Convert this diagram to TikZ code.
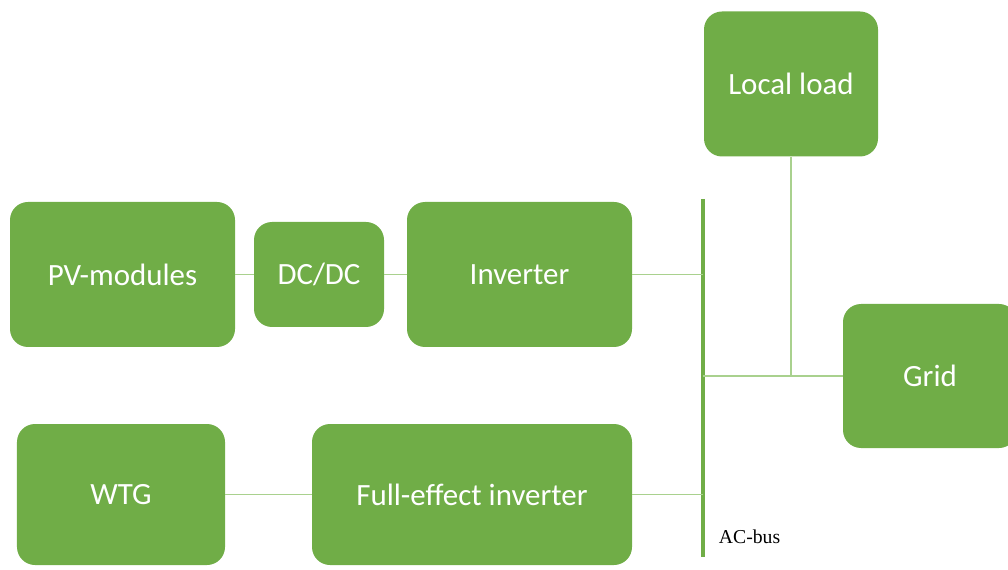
\documentclass[tikz,border=0pt]{standalone}
\usepackage{fontspec}
\setmainfont{Carlito}
\newfontfamily\busfont{Liberation Serif}
\usepackage{xcolor}
\usepackage{tikz}
\definecolor{boxgreen}{HTML}{70AD47}
\definecolor{wiregreen}{HTML}{A9D18E}

\begin{document}
\begin{tikzpicture}[
    unit/.style={rectangle, rounded corners=0.45cm, fill=boxgreen, text=white,
      inner sep=0pt, font=\fontsize{22}{26}\selectfont},
    wire/.style={draw=wiregreen, line width=1pt},
    bus/.style={draw=boxgreen, line width=2.8pt}
  ]
            \useasboundingbox (0,0) rectangle (25.2,14.225);
            \node[unit, minimum width=4.35cm, minimum height=3.625cm] at (19.775, 12.125) (load) {Local load};
            \node[unit, minimum width=5.625cm, minimum height=3.625cm] at (3.0625, 7.3625) (pv) {PV-modules};
            \node[unit, minimum width=3.25cm, minimum height=2.625cm] at (7.975, 7.3625) (dcdc) {DC/DC};
            \node[unit, minimum width=5.625cm, minimum height=3.625cm] at (12.9875, 7.3625) (inv) {Inverter};
            \node[unit, minimum width=4.35cm, minimum height=3.6cm] at (23.25, 4.825) (grid) {Grid};
            \node[unit, minimum width=5.2cm, minimum height=3.525cm] at (3.025, 1.8625) (wtg) {WTG};
            \node[unit, minimum width=8cm, minimum height=3.525cm] at (11.8, 1.8625) (fei) {Full-effect inverter};
            \coordinate (bustop) at (17.575, 9.25);
            \coordinate (busbot) at (17.575, 0.3);
            \node[anchor=west, font=\busfont\fontsize{14}{16}\selectfont] at (17.85, 0.8) (buslabel) {AC-bus};
            \draw[bus] (bustop) -- (busbot);
            \draw[wire] (pv) -- (dcdc);
            \draw[wire] (dcdc) -- (inv);
            \draw[wire] (inv.east) -- (inv.east -| bustop);
            \draw[wire] (wtg) -- (fei);
            \draw[wire] (fei.east) -- (fei.east -| bustop);
            \draw[wire] (grid.west -| bustop) -- (grid.west);
            \draw[wire] (load.south) -- (load.south |- grid.west);
        \end{tikzpicture}
\end{document}
